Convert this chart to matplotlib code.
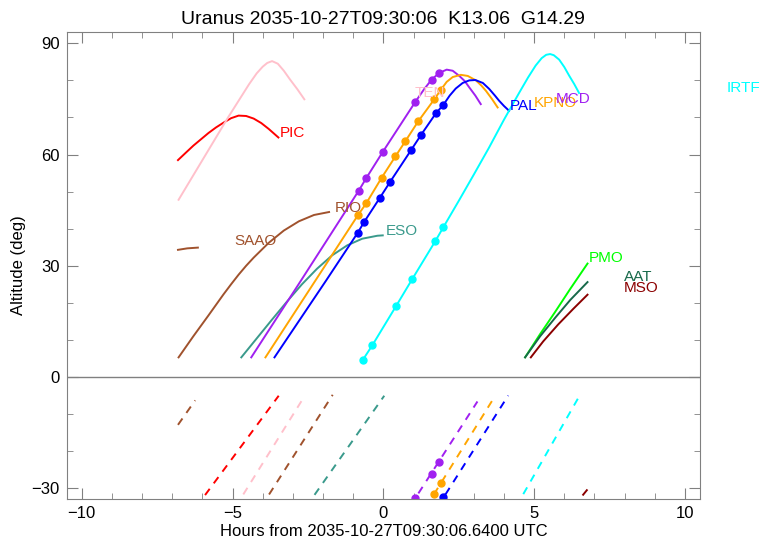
import matplotlib
matplotlib.use('Agg')
import matplotlib.pyplot as plt
from matplotlib.ticker import MultipleLocator

plt.rcParams['font.family'] = ['Liberation Sans', 'DejaVu Sans']

# Curvas de altitud (horas, grados)
pic_t = [-6.81, -6.55, -6.30, -6.05, -5.80, -5.55, -5.30, -5.05, -4.80, -4.55, -4.30, -4.05, -3.80, -3.48]
pic_alt = [58.5, 60.5, 62.4, 64.1, 65.8, 67.3, 68.6, 69.8, 70.5, 70.4, 69.7, 68.5, 66.9, 64.6]

ten_t = [-6.79, -5.15, -4.45, -4.20, -4.00, -3.85, -3.69, -3.50, -3.30, -3.10, -2.85, -2.62]
ten_alt = [47.8, 70.0, 79.0, 81.9, 83.7, 84.7, 85.2, 84.5, 82.6, 80.3, 77.6, 74.9]

saao_t = [-6.81, -6.5, -6.15]
saao_alt = [34.3, 34.7, 34.9]

rio_t = [-6.79, -6.30, -5.80, -5.30, -5.05, -4.80, -4.55, -4.30, -3.80, -3.30, -2.80, -2.30, -1.80]
rio_alt = [5.3, 11.0, 16.6, 22.3, 25.0, 27.6, 30.0, 32.2, 36.2, 39.5, 42.0, 43.7, 44.5]

eso_t = [-4.71, -4.20, -3.70, -3.20, -2.70, -2.20, -1.70, -1.20, -0.70, -0.20, -0.02]
eso_alt = [5.3, 10.4, 15.4, 20.3, 25.0, 29.2, 32.8, 35.5, 37.3, 38.1, 38.2]

mcd_t = [-4.38, -2.78, -0.82, -0.57, -0.02, 1.06, 1.35, 1.60, 1.85, 2.10, 2.30, 2.52, 2.70, 2.85, 3.05, 3.23]
mcd_alt = [5.3, 25.4, 50.2, 53.6, 60.7, 74.2, 77.6, 80.2, 82.0, 82.9, 82.6, 81.2, 79.8, 78.1, 75.9, 73.6]
mcd_mk_t = [-0.82, -0.57, -0.02, 1.06, 1.60, 1.85]
mcd_mk_alt = [50.2, 53.6, 60.7, 74.2, 80.2, 82.0]

kpno_t = [-3.91, -0.83, -0.57, -0.06, 0.40, 0.73, 1.16, 1.69, 1.91, 2.10, 2.30, 2.57, 2.80, 3.07, 3.25, 3.40, 3.60, 3.79]
kpno_alt = [5.3, 43.8, 46.8, 53.7, 59.5, 63.6, 69.0, 74.9, 77.5, 79.6, 80.9, 81.5, 81.2, 80.0, 78.6, 77.2, 75.0, 72.7]
kpno_mk_t = [-0.83, -0.57, -0.06, 0.40, 0.73, 1.16, 1.69, 1.91]
kpno_mk_alt = [43.8, 46.8, 53.7, 59.5, 63.6, 69.0, 74.9, 77.5]

pal_t = [-3.61, -1.90, -0.85, -0.63, -0.11, 0.23, 0.92, 1.25, 1.74, 1.99, 2.20, 2.40, 2.63, 2.85, 3.05,
         3.30, 3.51, 3.70, 3.84, 4.00, 4.17]
pal_alt = [5.3, 26.0, 38.9, 41.9, 48.4, 52.7, 61.2, 65.3, 71.1, 73.4, 75.9, 77.8, 79.3, 80.0, 80.1,
           79.3, 77.7, 75.9, 74.5, 73.1, 71.8]
pal_mk_t = [-0.85, -0.63, -0.11, 0.23, 0.92, 1.25, 1.74, 1.99]
pal_mk_alt = [38.9, 41.9, 48.4, 52.7, 61.2, 65.3, 71.1, 73.4]

irtf_t = [-0.69, -0.37, 0.42, 0.95, 1.72, 1.99, 2.50, 3.00, 3.50, 4.00, 4.50, 4.80, 5.05, 5.25,
          5.40, 5.53, 5.65, 5.83, 6.00, 6.16, 6.33, 6.49]
irtf_alt = [4.5, 8.5, 19.1, 26.3, 36.6, 40.4, 47.5, 54.6, 61.8, 69.4, 76.6, 80.8, 84.0, 86.0,
            86.9, 87.1, 86.8, 85.6, 83.6, 81.3, 79.0, 76.6]
irtf_mk_t = [-0.69, -0.37, 0.42, 0.95, 1.72, 1.99]
irtf_mk_alt = [4.5, 8.5, 19.1, 26.3, 36.6, 40.4]

pmo_t = [4.70, 5.20, 5.70, 6.20, 6.77]
pmo_alt = [5.3, 11.6, 17.6, 23.8, 30.6]

aat_t = [4.70, 5.20, 5.70, 6.20, 6.77]
aat_alt = [5.3, 11.0, 16.0, 20.8, 25.6]

mso_t = [4.89, 5.30, 5.80, 6.30, 6.77]
mso_alt = [5.3, 9.6, 14.2, 18.4, 22.2]

# Tramos discontinuos (parte inferior)
saao_d_t = [-6.81, -6.24]
saao_d_alt = [-12.9, -6.3]
pic_d_t = [-6.20, -3.47]
pic_d_alt = [-35.0, -5.05]
ten_d_t = [-4.90, -2.70]
ten_d_alt = [-35.0, -6.3]
rio_d_t = [-4.05, -1.68]
rio_d_alt = [-35.0, -4.8]
eso_d_t = [-2.56, 0.03]
eso_d_alt = [-35.0, -5.05]
mcd_d_t = [0.90, 3.12]
mcd_d_alt = [-34.7, -6.6]
mcd_d_mk_t = [1.06, 1.60, 1.85]
mcd_d_mk_alt = [-32.7, -26.1, -23.0]
kpno_d_t = [1.42, 3.71]
kpno_d_alt = [-35.0, -5.05]
kpno_d_mk_t = [1.69, 1.91]
kpno_d_mk_alt = [-31.6, -28.7]
pal_d_t = [1.80, 4.14]
pal_d_alt = [-35.0, -5.0]
pal_d_mk_t = [1.99]
pal_d_mk_alt = [-32.3]
irtf_d_t = [4.40, 6.46]
irtf_d_alt = [-35.0, -5.7]
mso_d_t = [6.30, 6.77]
mso_d_alt = [-35.0, -30.3]

# Etiquetas de observatorios
labels = ['PIC', 'TEN', 'SAAO', 'RIO', 'ESO', 'PAL', 'KPNO', 'MCD', 'IRTF', 'PMO', 'AAT', 'MSO']
label_x = [-3.44, 1.03, -4.93, -1.62, 0.07, 4.20, 5.00, 5.72, 11.37, 6.82, 7.98, 7.98]
label_y = [65.9, 76.6, 36.6, 45.7, 39.4, 73.2, 74.0, 75.0, 77.9, 32.2, 27.1, 23.9]

c_pic = '#ff0000'
c_ten = '#ffc0cb'
c_sien = '#a0522d'
c_eso = '#3a9a8c'
c_mcd = '#a020f0'
c_kpno = '#ffa500'
c_pal = '#0000ff'
c_irtf = '#00ffff'
c_pmo = '#00ff00'
c_aat = '#17694a'
c_mso = '#8b0000'
label_colors = [c_pic, c_ten, c_sien, c_sien, c_eso, c_pal, c_kpno, c_mcd, c_irtf, c_pmo, c_aat, c_mso]

fig = plt.figure(figsize=(7.8, 5.44), dpi=100)
ax = fig.add_axes([66.7 / 780, 1 - 499 / 544, (700 - 66.7) / 780, (499 - 32) / 544])

lw = 1.4
ax.axhline(0, color='gray', lw=1.0)

solid = [(pic_t, pic_alt, c_pic), (ten_t, ten_alt, c_ten), (saao_t, saao_alt, c_sien),
         (rio_t, rio_alt, c_sien), (eso_t, eso_alt, c_eso), (mcd_t, mcd_alt, c_mcd),
         (kpno_t, kpno_alt, c_kpno), (pal_t, pal_alt, c_pal), (irtf_t, irtf_alt, c_irtf),
         (pmo_t, pmo_alt, c_pmo), (aat_t, aat_alt, c_aat), (mso_t, mso_alt, c_mso)]
for t, a, c in solid:
    ax.plot(t, a, color=c, lw=lw, solid_joinstyle='round')

dashed = [(saao_d_t, saao_d_alt, c_sien), (pic_d_t, pic_d_alt, c_pic), (ten_d_t, ten_d_alt, c_ten),
          (rio_d_t, rio_d_alt, c_sien), (eso_d_t, eso_d_alt, c_eso), (mcd_d_t, mcd_d_alt, c_mcd),
          (kpno_d_t, kpno_d_alt, c_kpno), (pal_d_t, pal_d_alt, c_pal), (irtf_d_t, irtf_d_alt, c_irtf),
          (mso_d_t, mso_d_alt, c_mso)]
for t, a, c in dashed:
    ax.plot(t, a, color=c, lw=lw, dashes=(4, 3.5))

markers = [(mcd_mk_t, mcd_mk_alt, c_mcd), (kpno_mk_t, kpno_mk_alt, c_kpno),
           (pal_mk_t, pal_mk_alt, c_pal), (irtf_mk_t, irtf_mk_alt, c_irtf),
           (mcd_d_mk_t, mcd_d_mk_alt, c_mcd), (kpno_d_mk_t, kpno_d_mk_alt, c_kpno),
           (pal_d_mk_t, pal_d_mk_alt, c_pal)]
for t, a, c in markers:
    ax.plot(t, a, 'o', color=c, ms=5, clip_on=True)

for name, x, y, c in zip(labels, label_x, label_y, label_colors):
    ax.text(x, y, name, color=c, fontsize=11, ha='left', va='center', clip_on=False)

ax.set_xlim(-10.5, 10.5)
ax.set_ylim(-32.9, 93.05)
ax.xaxis.set_major_locator(MultipleLocator(5))
ax.xaxis.set_minor_locator(MultipleLocator(1))
ax.yaxis.set_major_locator(MultipleLocator(30))
ax.yaxis.set_minor_locator(MultipleLocator(10))
ax.tick_params(which='both', direction='in', top=True, right=True, color='gray',
               labelsize=12, pad=5)
ax.tick_params(which='major', length=8)
ax.tick_params(which='minor', length=4)
for s in ax.spines.values():
    s.set_color('gray')

ax.set_title('Uranus 2035-10-27T09:30:06  K13.06  G14.29', fontsize=14, pad=6)
ax.set_xlabel('Hours from 2035-10-27T09:30:06.6400 UTC', fontsize=12, labelpad=2)
ax.set_ylabel('Altitude (deg)', fontsize=12, labelpad=4)

fig.savefig('out.png', dpi=100)
